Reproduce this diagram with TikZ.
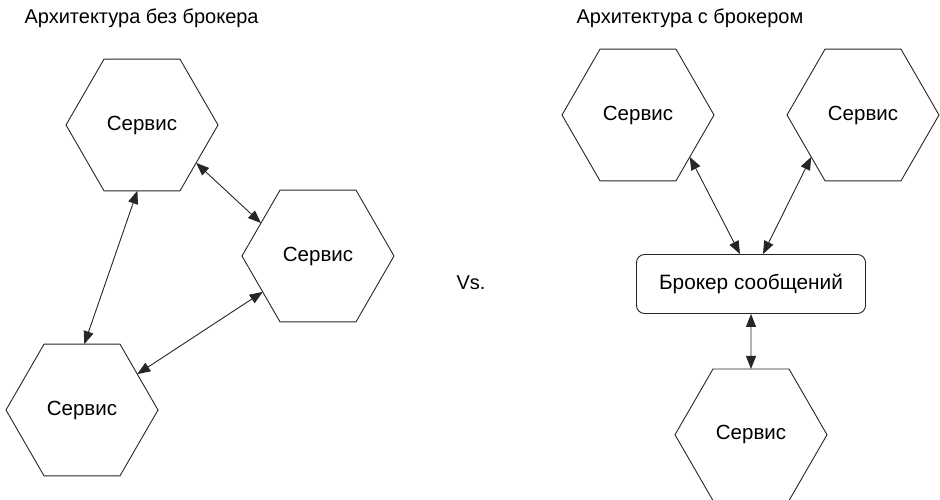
\documentclass[tikz,border=0pt]{standalone}
\usepackage{fontspec}
\setmainfont{Liberation Sans}
\usetikzlibrary{shapes.geometric}
\usetikzlibrary{arrows.meta}
\usetikzlibrary{positioning}

\tikzset{
  service/.style={draw=black!85, regular polygon, regular polygon sides=6,
    minimum size=152pt, inner sep=0pt, outer sep=0pt, line width=0.9pt,
    font=\fontsize{20.5}{24}\selectfont},
  broker/.style={draw=black!85, rounded corners=8pt, minimum width=229pt,
    minimum height=59pt, line width=0.9pt, font=\fontsize{20.8}{24}\selectfont},
  title/.style={anchor=west, font=\fontsize{20}{24}\selectfont},
  link/.style={{Triangle[length=13pt,width=10pt]}-{Triangle[length=13pt,width=10pt]},
    line width=0.9pt, draw=black!85}
}

\begin{document}
\begin{tikzpicture}[x=1pt,y=-1pt]
  \useasboundingbox (0,0) rectangle (940,500);

  % Define nodes
  \node[title] (ltitle) at (21,18) {Архитектура без брокера};
  \node[title] (rtitle) at (573,18) {Архитектура с брокером};

  \node[service] (s1) at (142,125) {Сервис};
  \node[service] (s2) at (318,256) {Сервис};
  \node[service] (s3) at (82,410)  {Сервис};

  \node[font=\fontsize{20}{24}\selectfont] (vs) at (471,283) {Vs.};

  \node[broker] (br) at (751,284) {Брокер сообщений};
  \node[service] (s4) at (638,115) {Сервис};
  \node[service] (s5) at (863,115) {Сервис};
  \node[service, below=55pt of br] (s6) {Сервис};

  % Connect the nodes
  \draw[link] (s1.-94) -- (s3.88);
  \draw[link] (s1.-35) -- (s2.150);
  \draw[link] (s2.-147) -- (s3.33);

  \draw[link] (s4.-39) -- ([xshift=-11pt]br.north);
  \draw[link] (s5.-141) -- ([xshift=12pt]br.north);
  \draw[link] (br) -- (s6);

\end{tikzpicture}
\end{document}
